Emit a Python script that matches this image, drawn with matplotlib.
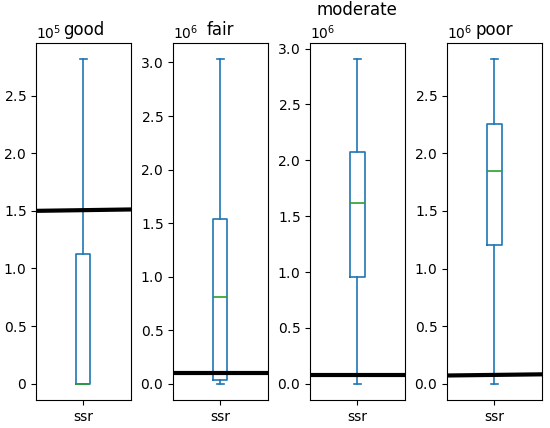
import matplotlib
matplotlib.use("Agg")
import matplotlib.pyplot as plt
from matplotlib.ticker import ScalarFormatter
from matplotlib.transforms import blended_transform_factory

categories = ["good", "fair", "moderate", "poor"]
series_label = "ssr"
whislo = [0.0, 0.0, 0.0, 0.0]
q1 = [0.0, 0.037e6, 0.955e6, 1.207e6]
median = [0.0, 0.813e6, 1.617e6, 1.845e6]
q3 = [1.13e5, 1.537e6, 2.076e6, 2.256e6]
whishi = [2.815e5, 3.03e6, 2.905e6, 2.816e6]
line_left = [1.50e5, 0.10e6, 0.083e6, 0.072e6]
line_right = [1.512e5, 0.10e6, 0.083e6, 0.082e6]


class PlainOffsetFormatter(ScalarFormatter):
    def __init__(self, zero_plain=False, **kw):
        super().__init__(**kw)
        self.zero_plain = zero_plain

    def __call__(self, x, pos=None):
        if self.zero_plain and x == 0:
            return "0"
        return super().__call__(x, pos)

    def get_offset(self):
        s = super().get_offset()
        return s.replace(r"\times", "")


fig, axes = plt.subplots(1, 4, figsize=(5.5, 4.28), dpi=100)
fig.subplots_adjust(left=0.0655, right=0.985, top=0.8995, bottom=0.0654, wspace=0.45)

blue = "#1f77b4"
green = "#2ca02c"

for i, ax in enumerate(axes):
    stats = [dict(med=median[i], q1=q1[i], q3=q3[i], whislo=whislo[i],
                  whishi=whishi[i], fliers=[], label=series_label)]
    ax.bxp(stats, showfliers=False,
           boxprops=dict(color=blue, linewidth=1.2),
           whiskerprops=dict(color=blue, linewidth=1.2),
           capprops=dict(color=blue, linewidth=1.2),
           medianprops=dict(color=green, linewidth=1.2))
    tr = blended_transform_factory(ax.transAxes, ax.transData)
    ax.plot([0, 1], [line_left[i], line_right[i]], color="black",
            linewidth=3, transform=tr)
    ax.set_xlim(0.5, 1.5)
    fmt = PlainOffsetFormatter(zero_plain=(i == 0), useMathText=True)
    fmt.set_powerlimits((-3, 4))
    ax.yaxis.set_major_formatter(fmt)
    ax.set_title(categories[i])

fig.savefig("out.png", dpi=100)
